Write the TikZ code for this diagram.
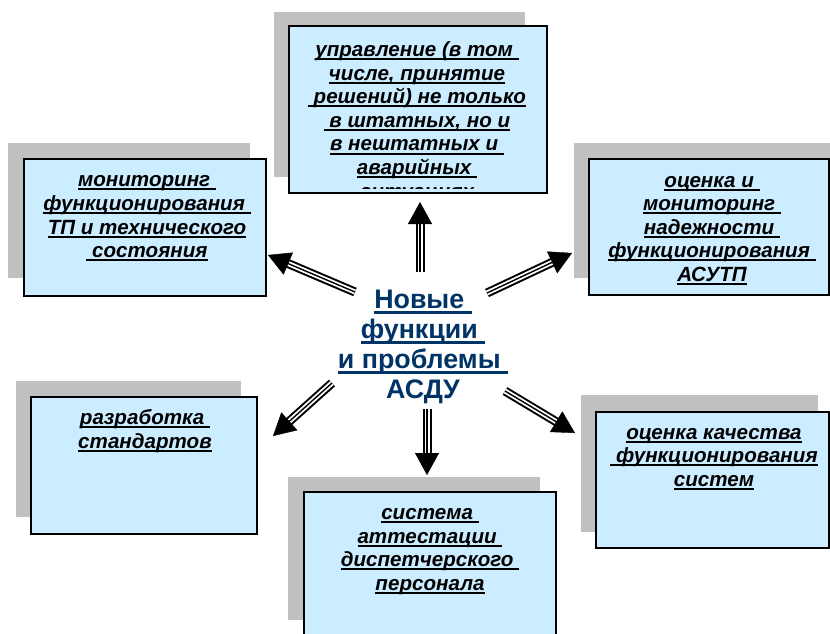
\documentclass[tikz,border=0pt]{standalone}
\usepackage{fontspec}
\setmainfont{Liberation Sans}
\usetikzlibrary{arrows.meta,calc}
\definecolor{boxblue}{HTML}{CCECFF}
\definecolor{shadowgray}{HTML}{C0C0C0}
\definecolor{navyblue}{HTML}{003366}
\newcommand\ulb[1]{\setbox0\hbox{#1}\rlap{\rule[-3.6pt]{\wd0}{2pt}}\box0}
\newcommand\ulc[1]{\setbox0\hbox{#1}\rlap{\rule[-5pt]{\wd0}{2.6pt}}\box0}
\tikzset{
  shadowbox/.style={fill=shadowgray, draw=none},
  infobox/.style={rectangle, fill=boxblue, draw=black, line width=1.5pt, inner sep=0pt},
  boxtext/.style={align=center, inner sep=0pt, font=\fontsize{20.6}{23.6}\selectfont\bfseries\itshape},
  centertext/.style={align=center, inner sep=0pt, text=navyblue, font=\fontsize{26.8}{30}\selectfont\bfseries},
  shaft/.style={draw=black, line width=2pt, double=white, double distance=5pt},
  shaftcore/.style={draw=black, line width=1.4pt},
  headtip/.style={line width=0.4pt, -{Triangle[length=22pt,width=24pt]}}
}
\begin{document}
\begin{tikzpicture}[x=1pt,y=-1pt]
\path[use as bounding box] (0,0) rectangle (830,633);
\clip (0,0) rectangle (830,633);

% shadows
\fill[shadowbox] (274,12) rectangle (525,177);
\fill[shadowbox] (8,143) rectangle (250,278);
\fill[shadowbox] (574,143) rectangle (830,278);
\fill[shadowbox] (16,381) rectangle (241,517);
\fill[shadowbox] (288,477) rectangle (540,620);
\fill[shadowbox] (581,395) rectangle (818,532);

% boxes
\node[infobox, minimum width=258pt, minimum height=167pt] (bTop) at (418,109.5) {};
\node[infobox, minimum width=242pt, minimum height=137pt] (bLeft) at (145,227.5) {};
\node[infobox, minimum width=240pt, minimum height=136pt] (bRight) at (709,227) {};
\node[infobox, minimum width=226pt, minimum height=137pt] (bLowLeft) at (144,465.5) {};
\node[infobox, minimum width=252pt, minimum height=148pt] (bBottom) at (430,566) {};
\node[infobox, minimum width=233pt, minimum height=136pt] (bLowRight) at (712.5,480) {};

% texts
\begin{scope}
\clip (290,27) rectangle (546,188);
\node[boxtext] (tTop) at (417,122) {\ulb{управление (в том\ }\\ \ulb{числе, принятие}\\ \ulb{\ решений) не только}\\ \ulb{\ в штатных, но и}\\ \ulb{в нештатных и\ }\\ \ulb{аварийных\ }\\ \ulb{ситуациях}};
\end{scope}
\node[boxtext] (tLeft) at (147,218.5) {\ulb{мониторинг\ }\\ \ulb{функционирования\ }\\ \ulb{ТП и технического}\\ \ulb{\ состояния}};
\node[boxtext] (tRight) at (712,230.5) {\ulb{оценка и\ }\\ \ulb{мониторинг\ }\\ \ulb{надежности\ }\\ \ulb{функционирования\ }\\ \ulb{АСУТП}};
\node[boxtext] (tLowLeft) at (145,431) {\ulb{разработка\ }\\ \ulb{стандартов}};
\node[boxtext] (tBottom) at (430,551.5) {\ulb{система\ }\\ \ulb{аттестации\ }\\ \ulb{диспетчерского\ }\\ \ulb{персонала}};
\node[boxtext] (tLowRight) at (714,459) {\ulb{оценка качества}\\ \ulb{\ функционирования}\\ \ulb{систем}};

\node[centertext] (center) at (423,347) {\ulc{Новые\ }\\ \ulc{функции\ }\\ \ulc{и проблемы\ }\\ АСДУ};

% arrow coordinates
\coordinate (sUp) at (420,272);       \coordinate (eUp) at (420,202);
\coordinate (sUL) at (355,292);       \coordinate (eUL) at (268,255);
\coordinate (sUR) at (487,293);       \coordinate (eUR) at (572,253);
\coordinate (sDL) at (332,383);       \coordinate (eDL) at (273,436);
\coordinate (sDn) at (427,409);       \coordinate (eDn) at (427,475);
\coordinate (sDR) at (505,391);       \coordinate (eDR) at (575,433);

\foreach \s/\t in {sUp/eUp, sUL/eUL, sUR/eUR, sDL/eDL, sDn/eDn, sDR/eDR}{
  \draw[shaft] (\s) -- ($(\t)!19pt!(\s)$);
  \draw[shaftcore] (\s) -- ($(\t)!19pt!(\s)$);
  \draw[headtip] ($(\t)!22pt!(\s)$) -- (\t);
}
\end{tikzpicture}
\end{document}
